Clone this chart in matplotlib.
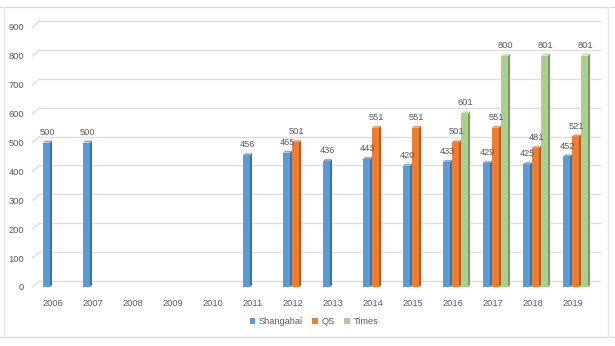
import matplotlib.pyplot as plt
from matplotlib.patches import Patch, Polygon
from matplotlib.lines import Line2D
from matplotlib.transforms import ScaledTranslation

# rankings per year (None = no entry that year)
years = [str(y) for y in range(2006, 2020)]
shanghai = [500, 500, None, None, None, 456, 465, 436, 443, 420, 433, 429, 425, 452]
qs = [None, None, None, None, None, None, 501, None, 551, 551, 501, 551, 481, 521]
times = [None, None, None, None, None, None, None, None, None, None, 601, 800, 801, 801]

series = [("Shangahai", shanghai, "#5B9BD5", "#41719C", "#7FB1E0"),
          ("QS", qs, "#ED7D31", "#B05C23", "#F29A5E"),
          ("Times", times, "#A9D18E", "#7A9B64", "#C3E0AE")]

W, H, DPI = 615, 346, 100
fig = plt.figure(figsize=(W / DPI, H / DPI), dpi=DPI)
plt.rcParams['font.family'] = ['Liberation Sans', 'DejaVu Sans']
txt = "#595959"
grid = "#DEDEDE"
fs = 6.7

# chart area border
fig.add_artist(Line2D([0, 1], [1 - 7 / H, 1 - 7 / H], color="#DCDCDC", lw=1))
fig.add_artist(Line2D([0, 1], [1 - 337 / H, 1 - 337 / H], color="#DCDCDC", lw=1))
fig.add_artist(Line2D([4 / W, 4 / W], [1 - 337 / H, 1 - 7 / H], color="#EAEAEA", lw=1))
fig.add_artist(Line2D([608 / W, 608 / W], [1 - 337 / H, 1 - 7 / H], color="#EAEAEA", lw=1))

# front plane of the plot area, in pixels
left, right, y0, y900 = 32.5, 592.5, 287, 27
ax = fig.add_axes([left / W, 1 - y0 / H, (right - left) / W, (y0 - y900) / H])
ax.set_xlim(-0.5, len(years) - 0.5)
ax.set_ylim(0, 900)
for s in ax.spines.values():
    s.set_visible(False)
ax.set_facecolor("none")

# back wall gridlines, shifted up/right for the depth effect
back = ax.transData + ScaledTranslation(7 / DPI, 6 / DPI, fig.dpi_scale_trans)
for v in range(0, 1000, 100):
    ax.plot([-0.5, len(years) - 0.5], [v, v], color=grid, lw=1, transform=back,
            clip_on=False, zorder=0)
    # floor stub from front edge to back wall
    p0 = ax.transData.transform((-0.5, v))
    p1 = back.transform((-0.5, v))
    fig.add_artist(Line2D([p0[0] / W, p1[0] / W], [p0[1] / H, p1[1] / H],
                          color=grid, lw=1, zorder=0))

ax.set_yticks(range(0, 1000, 100))
ax.set_xticks(range(len(years)))
ax.set_xticklabels(years)
ax.tick_params(length=0, labelsize=fs, colors=txt)
ax.tick_params(axis='y', pad=6)
ax.tick_params(axis='x', pad=9)

slot = 9 / 40          # one bar slot
front = 7 / 40         # visible front face
side = 2 / 40          # side depth (x)
depth = 2 / ((y0 - y900) / 900)  # side depth (y) in data units
shift = 4 / 40

for k, (name, vals, c, dark, light) in enumerate(series):
    for i, v in enumerate(vals):
        if v is None:
            continue
        xl = i + shift + (k - 1.5) * slot
        xr = xl + front
        ax.bar(xl, v, width=front, align='edge', color=c, edgecolor='none', zorder=3)
        ax.add_patch(Polygon([(xr, 0), (xr + side, depth), (xr + side, v + depth), (xr, v)],
                             closed=True, facecolor=dark, edgecolor='none', zorder=3))
        ax.add_patch(Polygon([(xl, v), (xl + side, v + depth), (xr + side, v + depth), (xr, v)],
                             closed=True, facecolor=light, edgecolor='none', zorder=3))
        ax.annotate(str(v), (xl + slot / 2, v), xytext=(0, 7.5), textcoords='offset points',
                    ha='center', va='center', fontsize=fs, color=txt, zorder=4)

handles = [Patch(facecolor=s[2], label=s[0]) for s in series]
fig.legend(handles=handles, loc='center', bbox_to_anchor=(314 / W, 1 - 322 / H), ncol=3,
           frameon=False, fontsize=fs, labelcolor=txt, handlelength=0.6, handleheight=0.6,
           handletextpad=0.4, columnspacing=1.0)

fig.savefig("out.png", dpi=DPI)
